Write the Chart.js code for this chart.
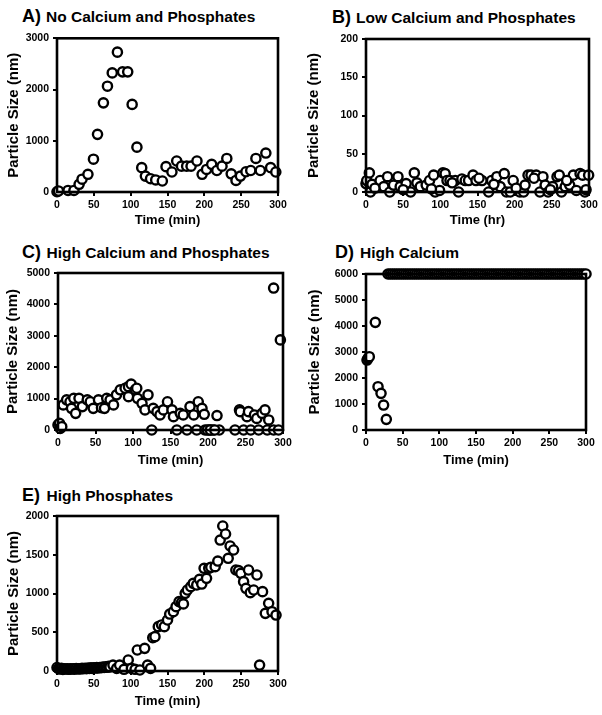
<!DOCTYPE html>
<html>
<head>
<meta charset="utf-8">
<script src="https://cdn.jsdelivr.net/npm/chart.js@4"></script>
<style>
  body { margin: 0; background: #fff; width: 602px; height: 715px; position: relative; overflow: hidden;
         font-family: "Liberation Sans", Arial, sans-serif; font-weight: bold; color: #000; }
  canvas { position: absolute; }
  .tag { position: absolute; font-size: 18px; line-height: 1; white-space: nowrap; }
  .ttl { position: absolute; font-size: 15.5px; line-height: 1; white-space: nowrap; }
</style>
</head>
<body>
<span class="tag" style="left:22px;top:7px">A)</span>
<span class="ttl" style="left:46px;top:9px">No Calcium and Phosphates</span>
<span class="tag" style="left:332px;top:7.5px">B)</span>
<span class="ttl" style="left:356px;top:9.6px">Low Calcium and Phosphates</span>
<span class="tag" style="left:22px;top:243px">C)</span>
<span class="ttl" style="left:46.5px;top:245.2px">High Calcium and Phosphates</span>
<span class="tag" style="left:335px;top:242.8px">D)</span>
<span class="ttl" style="left:360px;top:245px">High Calcium</span>
<span class="tag" style="left:22px;top:485.5px">E)</span>
<span class="ttl" style="left:46.5px;top:487.6px">High Phosphates</span>

<canvas id="chartA"></canvas>
<canvas id="chartB"></canvas>
<canvas id="chartC"></canvas>
<canvas id="chartD"></canvas>
<canvas id="chartE"></canvas>

<script>
const xTickValues = [0, 50, 100, 150, 200, 250, 300]

// A) no calcium and phosphates
const aTime = [0, 2, 15, 23, 30, 34, 42, 49.5, 55, 63, 68.5, 75, 82, 89, 96, 102, 108.5, 115, 120, 127,
  134, 143, 148, 156, 162.5, 169, 176, 182, 190, 197, 203, 210, 217, 224, 230.5, 236.5, 243, 249, 256.5, 263,
  270, 276, 283.5, 290, 297]
const aSize = [5, 20, 30, 30, 150, 250, 345, 640, 1125, 1740, 2065, 2325, 2730, 2345, 2345, 1710, 875, 475, 310, 260,
  235, 215, 495, 390, 605, 505, 505, 505, 605, 345, 440, 540, 420, 505, 655, 355, 225, 310, 395, 420,
  655, 420, 760, 475, 390]
const aYTicks = [0, 1000, 2000, 3000]

// B) low calcium and phosphates
const bTime = [0, 1, 4.5, 6, 8, 19, 24, 29, 32, 37, 43, 46, 54, 60, 65, 68.5, 73, 81, 85.5, 91,
  93, 99, 103.5, 106.5, 109, 113, 120, 124.5, 129, 133.5, 138, 144, 148, 156, 165, 169, 176, 180.5, 186, 189,
  194, 198, 207, 212, 214, 218, 222, 229, 234, 238, 241, 245, 251, 257, 260, 263, 268, 274, 279, 283,
  288, 291.5, 294.5, 299.5, 12, 50, 88, 116, 152, 172, 202, 226, 248, 270, 296]
const bSize = [11, 15, 25, 0, 10, 15, 7, 20, 0, 9, 20, 7, 11, 0, 25, 12, 7, 9, 15, 22,
  0, 2, 25, 24, 15, 15, 15, 0, 17, 15, 15, 22, 15, 15, 0, 15, 20, 7, 24, 0,
  0, 15, 0, 0, 9, 22, 22, 22, 0, 20, 9, 0, 7, 20, 22, 0, 7, 9, 22, 2,
  24, 22, 0, 22, 5, 3, 4, 12, 18, 10, 5, 18, 3, 15, 3]
const bYTicks = [0, 50, 100, 150, 200]

// C) high calcium and phosphates
const cTime = [0, 2, 3, 5, 7, 11.5, 16, 18, 21, 23.5, 28, 32.5, 39, 43, 47, 54, 58, 62, 65, 69.5,
  74, 78, 83, 89.5, 94, 94, 97.5, 103, 105, 106, 112, 116, 120, 125, 127, 132, 136, 140.5, 146, 152,
  154, 158.5, 163, 167, 172, 176, 181, 185, 187, 192, 195, 196, 201, 204, 207, 212, 215, 236, 242, 243,
  247.5, 252, 254, 257, 262, 265, 267.5, 272, 276, 279, 281, 287.5, 287.5, 294, 296.5, 199, 203, 209]
const cSize = [160, 210, 50, 105, 800, 960, 900, 690, 1010, 530, 1010, 745, 960, 900, 690, 960, 710, 690, 1010, 960,
  800, 1120, 1280, 1330, 1380, 1060, 1460, 1280, 1330, 1010, 850, 640, 1120, 0, 690, 585, 480, 640, 900, 640,
  425, 0, 530, 480, 0, 745, 480, 0, 900, 690, 500, 0, 0, 0, 0, 460, 0, 0, 640, 585,
  0, 425, 585, 0, 480, 370, 0, 530, 640, 0, 320, 4520, 0, 0, 2870, 0, 0, 0]
const cYTicks = [0, 1000, 2000, 3000, 4000, 5000]

// D) high calcium (6000 = out of range)
const dTime = [1.4, 2.7, 4.5, 12.7, 16.4, 20.5, 24, 27.7,
  30, 33, 36, 39, 42, 45, 48, 51, 54, 57, 60, 63, 66, 69, 72, 75, 78, 81, 84, 87, 90, 93, 96, 99,
  102, 105, 108, 111, 114, 117, 120, 123, 126, 129, 132, 135, 138, 141, 144, 147, 150, 153, 156, 159,
  162, 165, 168, 171, 174, 177, 180, 183, 186, 189, 192, 195, 198, 201, 204, 207, 210, 213, 216, 219,
  222, 225, 228, 231, 234, 237, 240, 243, 246, 249, 252, 255, 258, 261, 264, 267, 270, 273, 276, 279,
  282, 285, 288, 291, 294, 297, 300]
const dSize = [2690, 2755, 2820, 4140, 1665, 1410, 960, 410,
  6000, 6000, 6000, 6000, 6000, 6000, 6000, 6000, 6000, 6000, 6000, 6000, 6000, 6000, 6000, 6000,
  6000, 6000, 6000, 6000, 6000, 6000, 6000, 6000, 6000, 6000, 6000, 6000, 6000, 6000, 6000, 6000,
  6000, 6000, 6000, 6000, 6000, 6000, 6000, 6000, 6000, 6000, 6000, 6000, 6000, 6000, 6000, 6000,
  6000, 6000, 6000, 6000, 6000, 6000, 6000, 6000, 6000, 6000, 6000, 6000, 6000, 6000, 6000, 6000,
  6000, 6000, 6000, 6000, 6000, 6000, 6000, 6000, 6000, 6000, 6000, 6000, 6000, 6000, 6000, 6000,
  6000, 6000, 6000, 6000, 6000, 6000, 6000, 6000, 6000, 6000, 6000]
const dYTicks = [0, 1000, 2000, 3000, 4000, 5000, 6000]

// E) high phosphates
const eTime = [0, 2, 4, 6, 8, 10, 12, 14, 16, 18, 20, 22, 24, 26, 28, 30, 32, 34, 36, 38,
  40, 42, 44, 46, 48, 50, 52, 54, 56, 58, 60, 62, 64, 66, 68, 70, 72,
  76, 81, 85, 91, 96.7, 101, 106, 109, 112.5, 119, 123, 127, 130, 133, 137.5, 142, 145.7, 150, 153, 158,
  161.6, 165.7, 169, 171.6, 174, 177, 181.6, 185, 189.7, 193.4, 196.5, 199.7, 203, 206, 208.8, 214.7, 218.3, 221.5, 225, 228.8,
  232.4, 235, 239.7, 242.8, 246.5, 249.6, 253.3, 256.5, 260, 262.4, 267, 271.4, 275, 279, 282.8, 287.3, 291.9, 297.3]
const eSize = [45, 30, 25, 35, 20, 30, 25, 30, 22, 28, 25, 30, 24, 32, 26, 30, 28, 34, 30, 36,
  30, 38, 32, 40, 34, 42, 38, 44, 40, 46, 42, 50, 45, 55, 48, 60, 52,
  77, 34, 77, 22, 142, 34, 22, 271, 13, 292, 77, 34, 430, 443, 572, 594, 572, 658, 735, 765,
  830, 895, 882, 865, 1002, 1045, 1088, 1131, 1110, 1183, 1122, 1325, 1196, 1325, 1338, 1346, 1419, 1690, 1871, 1768,
  1454, 1613, 1561, 1303, 1295, 1260, 1153, 1067, 1303, 1011, 1045, 1239, 77, 1024, 744, 873, 765, 722]
const eYTicks = [0, 500, 1000, 1500, 2000]

const font = '"Liberation Sans", Arial, sans-serif'

// box drawn round the plot area, like the original
const frame = {
  id: 'frame',
  afterDatasetsDraw(chart) {
    const a = chart.chartArea, ctx = chart.ctx
    ctx.save()
    ctx.lineWidth = 2.6
    ctx.strokeStyle = '#000'
    ctx.strokeRect(a.left, a.top, a.right - a.left, a.bottom - a.top)
    ctx.restore()
  }
}

const panel = (id, box, time, size, yTicks, xTitle) => {
  const c = document.getElementById(id)
  c.width = box.w
  c.height = box.h
  c.style.left = box.x + 'px'
  c.style.top = box.y + 'px'
  const tickGrid = { display: true, drawOnChartArea: false, drawTicks: true, tickLength: 4, color: '#000', lineWidth: 2 }
  new Chart(c, {
    type: 'scatter',
    data: {
      datasets: [{
        data: time.map((t, i) => ({ x: t, y: size[i] })),
        pointRadius: 4.6,
        borderWidth: 2.4,
        borderColor: '#000',
        backgroundColor: '#fff',
        clip: false
      }]
    },
    options: {
      responsive: false,
      animation: false,
      events: [],
      layout: { padding: { top: box.padTop, right: box.padRight, left: 0, bottom: 0 } },
      plugins: { legend: { display: false }, tooltip: { enabled: false } },
      scales: {
        x: {
          type: 'linear', min: 0, max: 300,
          afterBuildTicks: s => { s.ticks = xTickValues.map(v => ({ value: v })) },
          afterFit: s => { s.height = box.xh },
          grid: tickGrid,
          border: { display: false },
          ticks: { color: '#000', padding: 3, maxRotation: 0, font: { family: font, size: 10.5, weight: 'bold' }, callback: v => v },
          title: { display: true, text: xTitle, color: '#000', padding: { top: 0, bottom: 0 }, font: { family: font, size: 13, weight: 'bold' } }
        },
        y: {
          type: 'linear', min: 0, max: yTicks[yTicks.length - 1],
          afterBuildTicks: s => { s.ticks = yTicks.map(v => ({ value: v })) },
          afterFit: s => { s.width = box.yw },
          grid: tickGrid,
          border: { display: false },
          ticks: { color: '#000', padding: 4, font: { family: font, size: 10.5, weight: 'bold' }, callback: v => v },
          title: { display: true, text: 'Particle Size (nm)', color: '#000', padding: { top: box.tp, bottom: 0 }, font: { family: font, size: 15, weight: 'bold' } }
        }
      }
    },
    plugins: [frame]
  })
}

panel('chartA', { x: 0, y: 28, w: 300, h: 200, padTop: 9, padRight: 22, yw: 57, xh: 36, tp: 4.5 }, aTime, aSize, aYTicks, 'Time (min)')
panel('chartB', { x: 300, y: 28, w: 302, h: 200, padTop: 11, padRight: 13, yw: 66, xh: 36, tp: 5 }, bTime, bSize, bYTicks, 'Time (hr)')
panel('chartC', { x: 0, y: 262, w: 300, h: 206, padTop: 11, padRight: 17, yw: 58, xh: 38, tp: 3.7 }, cTime, cSize, cYTicks, 'Time (min)')
panel('chartD', { x: 300, y: 262, w: 302, h: 206, padTop: 12, padRight: 16, yw: 66, xh: 38, tp: 6 }, dTime, dSize, dYTicks, 'Time (min)')
panel('chartE', { x: 0, y: 505, w: 300, h: 204, padTop: 11, padRight: 22, yw: 57, xh: 38, tp: 4.5 }, eTime, eSize, eYTicks, 'Time (min)')
</script>
</body>
</html>
